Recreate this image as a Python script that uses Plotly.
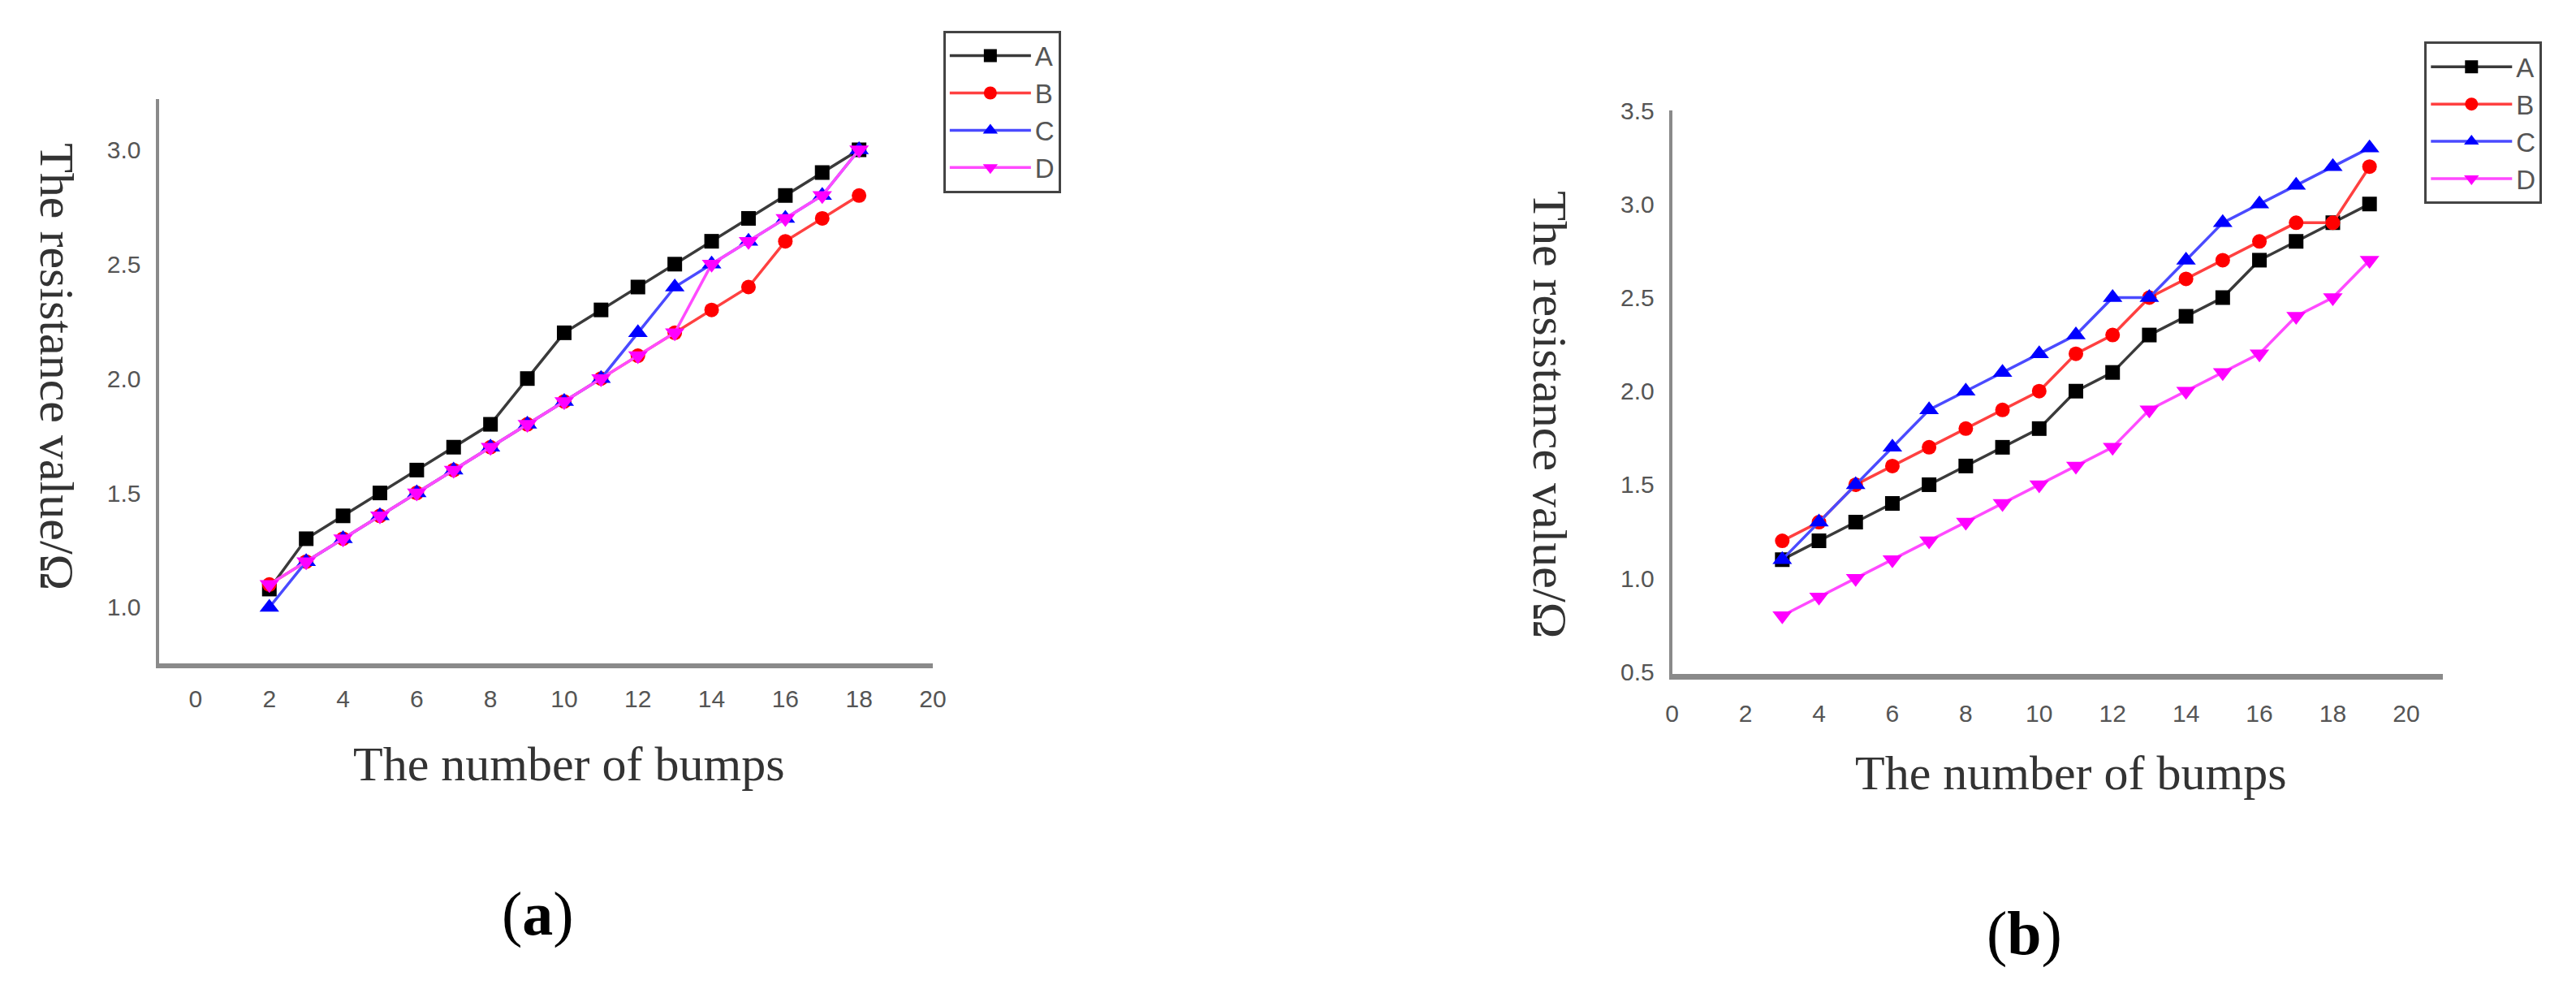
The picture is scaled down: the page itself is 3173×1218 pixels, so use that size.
import plotly.graph_objects as go

W, H = 3173, 1218
PAD = 8                      # default page body margin
FW, FH = W - 2 * PAD, H - 2 * PAD

series_names = ["A", "B", "C", "D"]

# Panel (a)
x_a = list(range(2, 19))
a_A = [1.08, 1.3, 1.4, 1.5, 1.6, 1.7, 1.8, 2.0, 2.2, 2.3, 2.4, 2.5, 2.6, 2.7, 2.8, 2.9, 3.0]
a_B = [1.1, 1.2, 1.3, 1.4, 1.5, 1.6, 1.7, 1.8, 1.9, 2.0, 2.1, 2.2, 2.3, 2.4, 2.6, 2.7, 2.8]
a_C = [1.0, 1.2, 1.3, 1.4, 1.5, 1.6, 1.7, 1.8, 1.9, 2.0, 2.2, 2.4, 2.5, 2.6, 2.7, 2.8, 3.0]
a_D = [1.1, 1.2, 1.3, 1.4, 1.5, 1.6, 1.7, 1.8, 1.9, 2.0, 2.1, 2.2, 2.5, 2.6, 2.7, 2.8, 3.0]

# Panel (b)
x_b = list(range(3, 20))
b_A = [1.1, 1.2, 1.3, 1.4, 1.5, 1.6, 1.7, 1.8, 2.0, 2.1, 2.3, 2.4, 2.5, 2.7, 2.8, 2.9, 3.0]
b_B = [1.2, 1.3, 1.5, 1.6, 1.7, 1.8, 1.9, 2.0, 2.2, 2.3, 2.5, 2.6, 2.7, 2.8, 2.9, 2.9, 3.2]
b_C = [1.1, 1.3, 1.5, 1.7, 1.9, 2.0, 2.1, 2.2, 2.3, 2.5, 2.5, 2.7, 2.9, 3.0, 3.1, 3.2, 3.3]
b_D = [0.8, 0.9, 1.0, 1.1, 1.2, 1.3, 1.4, 1.5, 1.6, 1.7, 1.9, 2.0, 2.1, 2.2, 2.4, 2.5, 2.7]

x_title = "The number of bumps"
y_title = "The resistance value/Ω"
panel_labels = ["(<b>a</b>)", "(<b>b</b>)"]


def px(x):
    return (x - PAD) / FW


def py(y):
    return 1 - (y - PAD) / FH


marker_colors = ["#000000", "#ff0000", "#0000ff", "#ff00ff"]
line_colors = ["#3a3a3a", "#ff4040", "#4a4aff", "#ff4aff"]
symbols = ["square", "circle", "triangle-up", "triangle-down"]
sizes = [18, 18, 21, 21]

fig = go.Figure()

for (xs, ys_list, xa, ya, lg) in [
    (x_a, [a_A, a_B, a_C, a_D], "x", "y", "legend"),
    (x_b, [b_A, b_B, b_C, b_D], "x2", "y2", "legend2"),
]:
    for i, ys in enumerate(ys_list):
        fig.add_trace(go.Scatter(
            x=xs, y=ys, name=series_names[i], mode="lines+markers",
            line=dict(color=line_colors[i], width=3.5),
            marker=dict(symbol=symbols[i], color=marker_colors[i], size=sizes[i]),
            xaxis=xa, yaxis=ya, legend=lg,
        ))

tick_font = dict(family="Liberation Sans", size=30, color="#555555")
axis_common = dict(showgrid=False, zeroline=False, showline=True, ticks="",
                   tickfont=tick_font)
legend_common = dict(xanchor="left", yanchor="top", bordercolor="#444444",
                     borderwidth=3, bgcolor="white",
                     font=dict(family="Liberation Sans", size=33, color="#555555"),
                     itemwidth=100, tracegroupgap=0)

fig.update_layout(
    width=FW, height=FH,
    margin=dict(l=0, r=0, t=0, b=0),
    paper_bgcolor="white", plot_bgcolor="white",
    xaxis=dict(domain=[px(189), px(1150)], range=[-1, 20], dtick=2, tick0=0,
               linecolor="#8a8a8a", linewidth=6, ticklabelstandoff=12, anchor="y",
               **axis_common),
    yaxis=dict(domain=[py(821), py(108)], range=[0.755, 3.22], dtick=0.5,
               tick0=1.0, tickformat=".1f", linecolor="#8a8a8a", linewidth=4,
               ticklabelstandoff=12, anchor="x", **axis_common),
    xaxis2=dict(domain=[px(2068), px(3025)], range=[0, 21], dtick=2, tick0=0,
                linecolor="#8a8a8a", linewidth=7, ticklabelstandoff=16, anchor="y2",
                **axis_common),
    yaxis2=dict(domain=[py(834), py(122)], range=[0.49, 3.5], dtick=0.5,
                tick0=0.5, tickformat=".1f", linecolor="#8a8a8a", linewidth=4,
                ticklabelstandoff=12, anchor="x2", **axis_common),
    legend=dict(x=px(1163), y=py(21), **legend_common),
    legend2=dict(x=px(3002), y=py(35), **legend_common),
)

title_font = dict(family="Liberation Serif", size=60, color="#333333")
label_font = dict(family="Liberation Serif", size=76, color="#000000")

annotations = [
    dict(text=y_title, x=px(63), y=py(446), textangle=90, font=title_font),
    dict(text=y_title, x=px(1916), y=py(507), textangle=90, font=title_font),
    dict(text=x_title, x=px(698), y=py(948), font=title_font),
    dict(text=x_title, x=px(2563), y=py(960), font=title_font),
    dict(text=panel_labels[0], x=px(660), y=py(1138), font=label_font),
    dict(text=panel_labels[1], x=px(2505), y=py(1162), font=label_font),
]
for a in annotations:
    fig.add_annotation(xref="paper", yref="paper", showarrow=False,
                       xanchor="center", yanchor="middle", **a)

fig.write_html("out.html")
